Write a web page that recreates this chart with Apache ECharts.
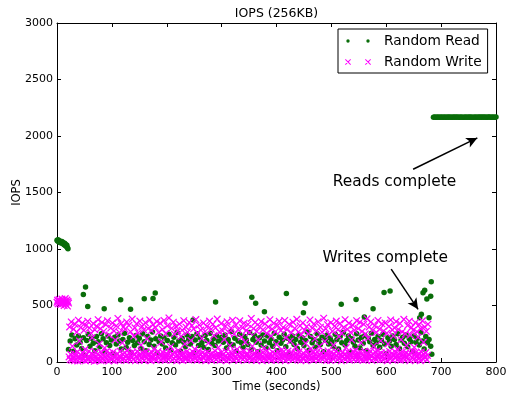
<!DOCTYPE html>
<html>
<head>
<meta charset="utf-8">
<script src="https://cdn.jsdelivr.net/npm/echarts@6/dist/echarts.min.js"></script>
<style>
  html, body { margin: 0; padding: 0; background: #fff; }
  #chart { width: 508px; height: 395px; }
</style>
</head>
<body>
<div id="chart"></div>
<script>
// IOPS per second for a mixed 256KB random read / random write run.

const xTicks = [0, 100, 200, 300, 400, 500, 600, 700, 800];
const yTicks = [0, 500, 1000, 1500, 2000, 2500, 3000];

// Reads, one sample per second while the cache warms up (t = 0..20 s)
const readStartup = [1078, 1070, 1082, 1064, 1073, 1058, 1068, 1061, 1052, 1066, 1049,
  1057, 1044, 1038, 1051, 1030, 1040, 1022, 1033, 1010, 1003];

// Reads competing with writes, every 3 s from t = 21 s
const readMixed = [
  110, 185, 240, 95, 205, 150, 230, 175, 120, 215, 60, 190, 245, 140, 210, 165, 100, 225, 180, 135,
  250, 205, 90, 170, 230, 145, 195, 70, 220, 160, 240, 185, 115, 200, 255, 130, 175, 215, 85, 190,
  145, 235, 170, 210, 120, 250, 180, 100, 225, 155, 195, 265, 140, 205, 75, 180, 230, 160, 215, 125,
  190, 245, 105, 170, 220, 150, 260, 185, 95, 210, 175, 135, 240, 200, 160, 225, 80, 195, 250, 145,
  215, 170, 130, 235, 190, 110, 255, 165, 205, 145, 230, 185, 65, 220, 175, 240, 125, 200, 160, 270,
  150, 210, 95, 185, 245, 170, 130, 225, 195, 155, 260, 110, 200, 235, 175, 90, 215, 150, 240, 185,
  125, 230, 170, 205, 140, 255, 180, 100, 220, 165, 195, 245, 135, 210, 70, 185, 230, 155, 200, 120,
  240, 175, 215, 145, 190, 265, 105, 225, 170, 200, 130, 250, 185, 155, 220, 90, 195, 240, 160, 210,
  180, 135, 245, 200, 115, 225, 170, 260, 150, 190, 230, 85, 205, 175, 140, 250, 195, 125, 220, 165,
  235, 100, 210, 180, 255, 145, 200, 170, 225, 130, 190, 245, 160, 75, 215, 185, 140, 230, 200, 155,
  250, 120, 195, 220, 165, 240, 135, 205, 180, 95, 230, 175, 210, 150, 260, 185, 115, 225, 170, 200, 140
];

// Read bursts above the main band: [time (s), IOPS]
const readBursts = [
  [48, 598], [52, 663], [56, 492], [86, 471], [116, 551], [134, 466], [159, 560], [175, 563],
  [179, 610], [248, 371], [289, 530], [355, 572], [362, 521], [378, 445], [418, 607], [449, 436],
  [452, 519], [518, 510], [545, 554], [560, 398], [576, 472], [596, 616], [607, 628], [661, 392],
  [664, 422], [667, 613], [670, 634], [674, 557], [678, 392], [681, 581], [682, 710], [683, 68]
];

// Reads alone after the writes finish, every 2 s from t = 686 s
const readAlone = [
  2167, 2168, 2166, 2167, 2169, 2166, 2167, 2168, 2165, 2167,
  2168, 2167, 2166, 2168, 2167, 2169, 2166, 2167, 2168, 2166,
  2168, 2167, 2168, 2166, 2167, 2169, 2167, 2166, 2167, 2168,
  2166, 2167, 2168, 2167, 2169, 2166, 2167, 2167, 2168, 2166,
  2167, 2169, 2167, 2168, 2166, 2168, 2167, 2168, 2166, 2167,
  2168, 2168, 2166, 2167, 2168, 2167, 2167, 2168
];

// Writes, one sample per second (t = 0..21 s)
const writeStartup = [528, 546, 515, 537, 552, 520, 541, 508, 533, 557, 518, 544, 526, 500,
  539, 561, 512, 530, 548, 495, 535, 522];

// Writes competing with reads, one sample per second from t = 22 s
const writeMixed = [
  45, 310, 22, 68, 355, 15, 140, 38, 290, 72, 12, 335, 55, 28, 265, 90, 8, 370, 48, 185, 30, 305, 62, 18, 345,
  80, 25, 280, 52, 110, 10, 325, 66, 35, 360, 20, 95, 300, 42, 14, 255, 75, 215, 32, 340, 58, 6, 285, 88, 40,
  318, 16, 70, 375, 26, 160, 50, 295, 12, 84, 350, 36, 60, 270, 18, 125, 46, 330, 92, 24, 365, 54, 9, 240, 78,
  34, 300, 64, 20, 345, 86, 44, 275, 11, 195, 58, 320, 30, 74, 385, 15, 50, 260, 96, 38, 340, 22, 170, 68, 310,
  28, 82, 290, 46, 13, 355, 60, 105, 36, 325, 76, 19, 268, 52, 40, 380, 88, 24, 230, 66, 302, 10, 48, 338, 94,
  31, 258, 57, 17, 362, 72, 150, 42, 315, 26, 80, 285, 14, 54, 348, 90, 33, 205, 62, 296, 21, 70, 372, 44, 12,
  278, 85, 38, 330, 56, 118, 27, 306, 74, 16, 358, 48, 92, 262, 35, 65, 342, 20, 178, 58, 288, 83, 30, 368, 51,
  15, 252, 77, 41, 320, 63, 24, 390, 95, 37, 135, 55, 298, 18, 72, 352, 29, 246, 86, 47, 312, 11, 60, 275, 99,
  39, 336, 68, 21, 225, 53, 282, 13, 79, 366, 45, 160, 26, 308, 91, 34, 264, 58, 17, 350, 75, 42, 190, 64, 322,
  23, 87, 294, 49, 115, 32, 376, 70, 15, 256, 56, 97, 328, 28, 62, 283, 19, 210, 81, 44, 346, 36, 73, 270, 12,
  59, 314, 89, 25, 168, 47, 362, 66, 30, 290, 14, 78, 335, 52, 235, 38, 98, 302, 20, 61, 380, 43, 128, 71, 266,
  16, 54, 340, 85, 33, 276, 67, 22, 200, 48, 318, 93, 11, 356, 40, 74, 260, 27, 145, 57, 300, 84, 35, 370, 63,
  19, 248, 90, 46, 326, 29, 112, 69, 286, 13, 52, 364, 82, 37, 220, 60, 304, 24, 96, 344, 41, 175, 65, 279, 17,
  76, 332, 50, 28, 262, 88, 43, 385, 18, 140, 64, 296, 32, 79, 350, 55, 14, 272, 94, 39, 198, 58, 316, 26, 71,
  358, 45, 12, 284, 83, 122, 36, 338, 61, 20, 254, 99, 48, 310, 27, 67, 374, 40, 230, 15, 292, 86, 53, 342, 30,
  73, 268, 16, 155, 57, 324, 92, 35, 360, 64, 22, 278, 47, 108, 81, 306, 29, 52, 368, 12, 215, 70, 288, 44, 97,
  25, 334, 60, 185, 38, 258, 85, 18, 352, 56, 31, 298, 76, 132, 43, 378, 66, 21, 266, 90, 49, 320, 14, 240, 62,
  34, 346, 79, 27, 282, 53, 165, 11, 314, 95, 40, 250, 68, 24, 372, 58, 118, 33, 300, 84, 17, 336, 46, 205, 72,
  28, 276, 91, 50, 356, 19, 138, 63, 308, 37, 80, 264, 22, 55, 388, 42, 182, 74, 294, 13, 66, 330, 98, 31, 245,
  59, 14, 348, 87, 45, 272, 26, 150, 70, 318, 39, 93, 362, 52, 20, 286, 77, 225, 35, 340, 61, 10, 256, 82, 48,
  304, 30, 68, 375, 24, 128, 57, 290, 89, 41, 344, 16, 72, 262, 50, 195, 36, 326, 94, 23, 280, 63, 105, 44, 366,
  18, 76, 296, 55, 32, 352, 85, 170, 27, 270, 61, 15, 334, 96, 47, 248, 21, 78, 382, 40, 210, 67, 310, 29, 92,
  354, 51, 13, 278, 73, 142, 38, 322, 88, 25, 260, 56, 99, 368, 34, 64, 292, 19, 188, 80, 338, 46, 21, 274, 69,
  31, 346, 84, 43, 255, 12, 160, 58, 316, 94, 26, 372, 49, 75, 284, 17, 232, 62, 302, 35, 86, 358, 53, 115, 22,
  288, 71, 40, 340, 15, 198, 65, 266, 91, 33, 378, 54, 19, 250, 82, 148, 45, 324, 27, 68, 360, 11, 240, 77, 306,
  39, 95, 282, 23, 130, 60, 348, 85, 18, 268, 50, 220, 74, 330, 36, 12, 294, 89, 57, 364, 28, 175, 66, 310, 44,
  83, 272, 20, 58, 335
];

// Pair a run of evenly spaced samples with their times
function atTimes(values, start, step) {
  return values.map((v, i) => [start + i * step, v]);
}

const readPoints = [].concat(
  atTimes(readStartup, 0, 1),
  atTimes(readMixed, 21, 3),
  readBursts,
  atTimes(readAlone, 686, 2)
);
const writePoints = [].concat(
  atTimes(writeStartup, 0, 1),
  atTimes(writeMixed, 22, 1)
);

const FONT = 'DejaVu Sans';
const GREEN = '#0a6d0a';
const MAGENTA = '#ff00ff';

// Marker shapes: a thin "x" and the two-marker legend keys
const crossPath = 'path://M0,0.7L0.7,0L6,5.3L5.3,6Z M5.3,0L6,0.7L0.7,6L0,5.3Z';
const crossKey = 'path://M0,0.7L0.7,0L6,5.3L5.3,6Z M5.3,0L6,0.7L0.7,6L0,5.3Z ' +
  'M20,0.7L20.7,0L26,5.3L25.3,6Z M25.3,0L26,0.7L20.7,6L20,5.3Z';
const dotKey = 'path://M0,0M26,6 M1.3,3a1.7,1.7 0 1,0 3.4,0a1.7,1.7 0 1,0 -3.4,0Z ' +
  'M21.3,3a1.7,1.7 0 1,0 3.4,0a1.7,1.7 0 1,0 -3.4,0Z';

const tickStyle = { show: true, inside: true, length: 4, lineStyle: { color: '#000', width: 1 } };
const lineStyle = { show: true, onZero: false, lineStyle: { color: '#000', width: 1 } };
const plain = v => String(v);

function xAxis(position, labels) {
  return {
    type: 'value', position, min: xTicks[0], max: xTicks[xTicks.length - 1],
    interval: xTicks[1] - xTicks[0],
    axisLine: lineStyle, axisTick: tickStyle, splitLine: { show: false },
    axisLabel: { show: labels, formatter: plain, color: '#000', fontFamily: FONT, fontSize: 11, margin: 5 },
    name: labels ? 'Time (seconds)' : '', nameLocation: 'middle', nameGap: 19, nameMoveOverlap: false,
    nameTextStyle: { color: '#000', fontFamily: FONT, fontSize: 11.5 }
  };
}
function yAxis(position, labels) {
  return {
    type: 'value', position, min: yTicks[0], max: yTicks[yTicks.length - 1],
    interval: yTicks[1] - yTicks[0],
    axisLine: lineStyle, axisTick: tickStyle, splitLine: { show: false },
    axisLabel: { show: labels, formatter: plain, color: '#000', fontFamily: FONT, fontSize: 11, margin: 4 },
    name: labels ? 'IOPS' : '', nameLocation: 'middle', nameGap: 34, nameMoveOverlap: false,
    nameTextStyle: { color: '#000', fontFamily: FONT, fontSize: 11.5 }
  };
}

const arrowStyle = { color: '#000', width: 1.5, type: 'solid' };
const noteLabel = { show: true, position: 'inside', formatter: '{b}', color: '#000',
  fontFamily: FONT, fontSize: 15.4 };

const chart = echarts.init(document.getElementById('chart'), null, { renderer: 'canvas' });
chart.setOption({
  animation: false,
  backgroundColor: '#fff',
  title: {
    text: 'IOPS (256KB)', left: 276.5, top: 7, textAlign: 'center', padding: 0,
    textStyle: { color: '#000', fontFamily: FONT, fontSize: 12.5, fontWeight: 'normal' }
  },
  grid: { left: 57, right: 12, top: 23, bottom: 33, containLabel: false, outerBoundsMode: 'none' },
  xAxis: [xAxis('bottom', true), xAxis('top', false)],
  yAxis: [yAxis('left', true), yAxis('right', false)],
  legend: {
    orient: 'vertical', left: 338, top: 29, padding: [4, 6, 3, 7], itemGap: 5,
    itemWidth: 26, itemHeight: 6, borderColor: '#000', borderWidth: 1, borderRadius: 0,
    backgroundColor: '#fff', selectedMode: false,
    textStyle: { color: '#000', fontFamily: FONT, fontSize: 13.75, lineHeight: 16, padding: [0, 0, 0, 8] },
    data: [
      { name: 'Random Read', icon: dotKey },
      { name: 'Random Write', icon: crossKey }
    ]
  },
  series: [
    {
      name: 'Random Read', type: 'scatter', data: readPoints, symbol: 'circle', symbolSize: 5.5,
      itemStyle: { color: GREEN, opacity: 1 },
      z: 2,
      markLine: {
        silent: true, symbol: ['none', 'arrow'], symbolSize: [8, 11],
        lineStyle: arrowStyle, label: { show: false },
        data: [
          [{ coord: [649, 1706] }, { coord: [766, 1983] }],
          [{ coord: [609, 822] }, { coord: [658, 466] }]
        ]
      },
      markPoint: {
        silent: true, symbol: 'rect', symbolSize: 1, itemStyle: { color: 'rgba(0,0,0,0)' },
        label: noteLabel,
        data: [
          { name: 'Reads complete', coord: [615, 1590] },
          { name: 'Writes complete', coord: [598, 920] }
        ]
      }
    },
    {
      name: 'Random Write', type: 'scatter', data: writePoints, symbol: crossPath, symbolSize: 7.5,
      itemStyle: { color: MAGENTA, opacity: 1 },
      z: 3
    }
  ]
});
</script>
</body>
</html>
